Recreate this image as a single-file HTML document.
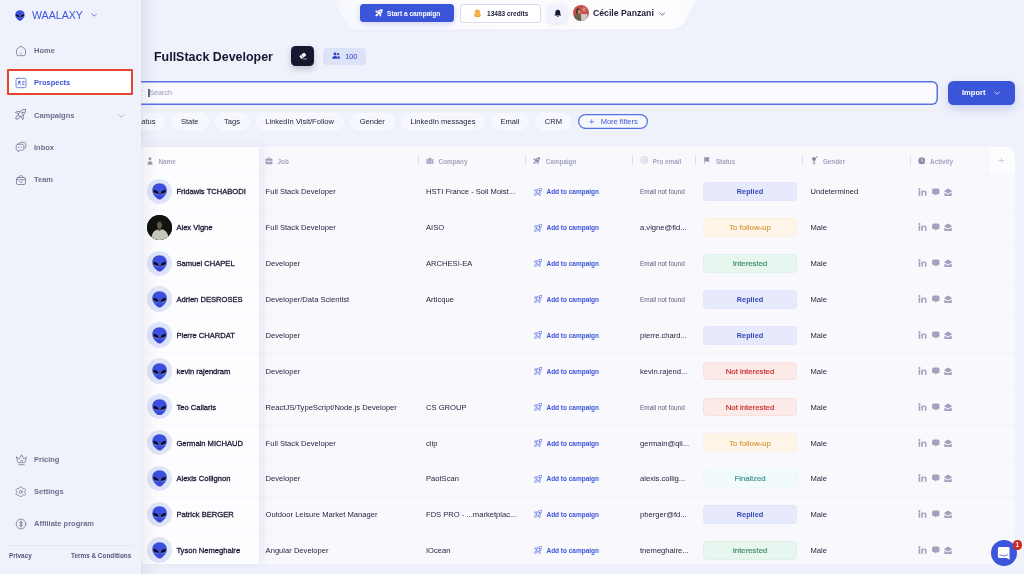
<!DOCTYPE html>
<html><head><meta charset="utf-8"><title>Waalaxy</title>
<style>
*{box-sizing:border-box;margin:0;padding:0}
html,body{width:1024px;height:574px;overflow:hidden;background:#eff2fb;font-family:"Liberation Sans",sans-serif;color:#1c1d3a}
#main{position:absolute;left:0;top:0;width:1024px;height:574px;background:#eff2fb;overflow:hidden}
/* sidebar */
#side{position:absolute;left:0;top:0;width:140.5px;height:574px;background:#eff2fb}
#sshadow{position:absolute;left:140.5px;top:0;width:18px;height:574px;background:linear-gradient(to right,rgba(40,45,95,.085),rgba(40,45,95,.05) 22%,rgba(40,45,95,.024) 55%,rgba(40,45,95,0))}
#side .logo-t{position:absolute;left:32px;top:9px;font-size:10.6px;color:#3b55d9;letter-spacing:0;line-height:12px}
.nav{position:absolute;left:34px;font-size:7.5px;font-weight:bold;color:#6c6f8c;line-height:10px;white-space:nowrap}
.nav.act{color:#3b55d9}
.nic{position:absolute;left:15px}
#pbox{position:absolute;left:7px;top:69.4px;width:126px;height:26px;background:#fff;border:2px solid #e8452e;border-radius:1px}
#sdiv{position:absolute;left:8px;top:545px;width:124px;height:1px;background:#e3e6f3}
.foot{position:absolute;top:550.5px;font-size:6.4px;font-weight:bold;color:#54577a;line-height:9px;white-space:nowrap}
/* header */
#hdr{position:absolute;left:322px;top:0}
#startb{position:absolute;left:360.3px;top:3.6px;width:93.6px;height:18.9px;background:#3b55d9;border-radius:3.5px;box-shadow:0 2px 6px rgba(59,85,217,.25)}
#startb span{position:absolute;left:26.8px;top:5px;font-size:6.6px;font-weight:bold;color:#fff;line-height:9px;white-space:nowrap}
#credb{position:absolute;left:459.8px;top:3.5px;width:81px;height:19.5px;background:#fff;border:1px solid #d9dcef;border-radius:3px}
#credb span{position:absolute;left:26.3px;top:4.2px;font-size:6.5px;font-weight:bold;color:#1c1d3a;line-height:9px;white-space:nowrap}
#bellb{position:absolute;left:547.8px;top:3.7px;width:19.4px;box-shadow:0 1px 4px rgba(200,203,230,.5);height:19.5px;background:#f1f2fb;border-radius:4px}
#uav{position:absolute;left:573px;top:5px;width:16px;height:16px;border-radius:50%;overflow:hidden}
#uname{position:absolute;left:593px;top:8px;font-size:8.7px;font-weight:bold;color:#1c1d3a;line-height:10px;white-space:nowrap}
/* title */
#title{position:absolute;left:154px;top:49px;font-size:12.45px;font-weight:bold;color:#15162f;line-height:16px;white-space:nowrap}
#erase{position:absolute;left:291px;top:46px;width:23.2px;height:20.2px;background:#17182f;border-radius:4.5px;box-shadow:0 3px 6px rgba(26,26,56,.22)}
#cnt{position:absolute;left:323.3px;top:47.7px;width:42.7px;height:17px;background:#dce2f8;border-radius:4px}
#cnt span{position:absolute;left:21.9px;top:4.3px;font-size:7.3px;color:#2a3fc0;line-height:9px}
/* search */
#search{position:absolute;left:130px;top:80.6px;width:807.8px;height:24.4px;background:#fafaff;border:0;box-shadow:inset 0 0 0 1.5px #5872e1;border-radius:6px}
#search span{position:absolute;left:19.3px;top:7.9px;font-size:7.2px;color:#9a9db8;line-height:10px}
#caret{position:absolute;left:148px;top:88.5px;width:2px;height:8.5px;background:#6a6c86}
#import{position:absolute;left:948.2px;top:80.7px;width:66.4px;height:24.2px;background:#3b55d9;border-radius:5.5px;box-shadow:0 4px 9px rgba(59,85,217,.22)}
#import span{position:absolute;left:13.8px;top:7.6px;font-size:7.6px;font-weight:bold;color:#fff;line-height:9px}
/* filters */
.pill{position:absolute;top:112.8px;height:17px;background:#f7f8fe;border:1px solid #fbfbff;border-radius:9px;font-size:7.55px;color:#24263f;line-height:16px;text-align:center;white-space:nowrap}
#more{position:absolute;left:578px;top:113.8px;width:70px;height:15.1px;border:0;box-shadow:inset 0 0 0 1.3px #5570e0;border-radius:8px;background:#f7f8fe}
#more span{position:absolute;left:22.7px;top:3.2px;font-size:7.5px;color:#3b55d9;line-height:10px;white-space:nowrap}
#fline{position:absolute;left:141px;top:138px;width:873px;height:1px;background:#f4f5fc}
/* table */
#table{position:absolute;left:0;top:0;width:1024px;height:574px}
#tbg{position:absolute;left:141px;top:147px;width:873.5px;height:417px;background:#f8f8fd;border-radius:0 9px 0 0}
#namecol{position:absolute;left:141px;top:147px;width:117.5px;height:417px;background:#fdfdff;box-shadow:4px 0 8px rgba(190,192,215,.26)}
#pluscol{position:absolute;left:990px;top:147px;width:24.5px;height:26.5px;background:#fdfdff;border-radius:0 9px 0 0}
.rowline{position:absolute;left:141px;width:873.5px;height:1px;background:rgba(60,60,120,.024)}
.th{position:absolute;top:156.7px;font-size:6.35px;font-weight:bold;color:#a3a5bf;line-height:9px;white-space:nowrap}
.thi{position:absolute}
.sep{position:absolute;top:156px;width:1px;height:9px;background:#dddfec}
.c{position:absolute;font-size:7.6px;line-height:10px;white-space:nowrap;color:#24263f}
.nm{left:176.4px;color:#15162f;-webkit-text-stroke:.28px #15162f}
.jb{left:265.6px}
.co{left:426px}
.atc{left:546.5px;font-size:6.47px;font-weight:bold;color:#3b55d9}
.em{left:640px}
.enf{left:640px;font-size:6.45px;color:#5f617b}
.gd{left:810.5px}
.ic-rk{position:absolute;left:534.2px}
.ic-act{position:absolute;left:917.6px}
.av{position:absolute;left:146.5px;width:25.5px;height:25.5px;border-radius:50%;background:#dfe4f8;overflow:hidden}
.av.ph{background:#1a1715}
.st{position:absolute;left:703px;width:94px;height:18.8px;border-radius:4px;border:1px solid}
.stt{position:absolute;left:703px;width:94px;font-size:7.8px;line-height:10px;text-align:center;white-space:nowrap;background:none!important;border:0;-webkit-text-stroke:.2px currentColor}
.st-rep{background:#e6eafc;border-color:#e0e5fb;color:#3549b8;font-weight:bold;font-size:7.3px;-webkit-text-stroke:0!important}
.st-fol{background:#fef5e8;border-color:#fdf0e0;color:#dd9a45}
.st-int{background:#e7f6ef;border-color:#dff2e9;color:#45906c}
.st-not{background:#fceae8;border-color:#f9e0de;color:#c9302f}
.st-fin{background:#f2fbfb;border-color:#edf8f8;color:#3f9694}
#chat{position:absolute;left:990.5px;top:540px;width:26px;height:26px;border-radius:50%;background:#3b57d9}
#badge{position:absolute;left:22px;top:0px;width:9.5px;height:9.5px;border-radius:50%;background:#d0261f;color:#fff;font-size:6.5px;font-weight:bold;line-height:9.5px;text-align:center}

#main,#side{will-change:transform}

</style></head>
<body>
<svg width="0" height="0" style="position:absolute">
<defs>
<g id="alien">
<path d="M15 0.5 C6.2 0.5 0.6 6.2 0.6 14.2 C0.6 20.5 4 25.5 9.5 30.2 C12 32.6 13.5 33 15 33 C16.5 33 18 32.6 20.5 30.2 C26 25.5 29.4 20.5 29.4 14.2 C29.4 6.2 23.8 0.5 15 0.5Z" fill="#3a50dc"/>
<path d="M2.4 14.2 C6.6 13 12 16.2 13.2 21.4 C8.6 22.8 3 19.8 2.4 14.2Z" fill="#090a16"/>
<path d="M27.6 14.2 C23.4 13 18 16.2 16.8 21.4 C21.4 22.8 27 19.8 27.6 14.2Z" fill="#090a16"/>
<path d="M4.2 19.8 C6.6 22 9.8 22.6 12.8 21.8" stroke="#c9cde8" stroke-width=".9" fill="none"/>
<path d="M25.8 19.8 C23.4 22 20.2 22.6 17.2 21.8" stroke="#c9cde8" stroke-width=".9" fill="none"/>
<path d="M12.8 28 Q15 29 17.2 28" stroke="#2231a8" stroke-width="1.1" fill="none"/>
</g>
<g id="photo">
<rect width="25.6" height="25.6" fill="#121211"/>
<path d="M4.2 25.6 C4.4 19 6.5 15.6 10.6 14.6 L12.7 15.8 L15 14.4 C19.5 15.5 21.6 19 21.8 25.6Z" fill="#c6c6ba"/>
<rect x="11.2" y="12" width="2.8" height="3.2" fill="#5a493d"/>
<ellipse cx="12.5" cy="10" rx="2.5" ry="3.3" fill="#6b594b"/>
<path d="M9.9 9.4 C9.7 6.2 11.2 5.4 12.6 5.4 C14.2 5.4 15.4 6.4 15.1 9.2 C14.4 7.6 13.6 7.2 12.4 7.2 C11.2 7.2 10.4 7.8 9.9 9.4Z" fill="#2a2019"/>
</g>

<g id="acts" fill="#a1a3bc">
<path d="M0.6 3.6 h1.6 v5.2 h-1.6z M1.4 1.0 a0.95 0.95 0 1 0 0.001 0z M3.3 3.6 h1.5 v0.75 c0.4-0.6 1-0.9 1.75-0.9 c1.5 0 1.95 0.95 1.95 2.3 v3.05 h-1.6 v-2.7 c0-0.7-0.15-1.25-0.85-1.25 c-0.75 0-1.15 0.5-1.15 1.3 v2.65 h-1.6z"/>
<path d="M15.6 1.5 h4.4 a1.5 1.5 0 0 1 1.5 1.5 v2.8 a1.5 1.5 0 0 1 -1.5 1.5 h-1.2 l-1.2 1.4 l-0.6 -1.4 h-1.4 a1.5 1.5 0 0 1 -1.5 -1.5 v-2.8 a1.5 1.5 0 0 1 1.5 -1.5z"/>
<path d="M30.1 1.4 l3.7 2.3 v0.9 l-3.7 2 l-3.7 -2 v-0.9z M26.4 5.7 l3.7 1.9 l3.7 -1.9 v2.7 a0.7 0.7 0 0 1 -0.7 0.7 h-6 a0.7 0.7 0 0 1 -0.7 -0.7z"/>
</g>
<g id="chat-ic">
<path d="M8.2 7 h9 a1.3 1.3 0 0 1 1.3 1.3 v11.5 l-2.8 -1.9 h-7.5 a1.3 1.3 0 0 1 -1.3 -1.3 v-8.3 a1.3 1.3 0 0 1 1.3 -1.3z" fill="#fff"/>
<path d="M9 15 Q12.8 17.2 16.7 15" stroke="#3b57d9" stroke-width="0.8" fill="none" stroke-linecap="round"/>
</g>



<g id="coins">
<ellipse cx="9" cy="13.2" rx="6.2" ry="3.2" fill="#f0a13a"/>
<ellipse cx="9" cy="11.6" rx="6.2" ry="3.2" fill="#f6bb55" stroke="#e8922a" stroke-width="1"/>
<circle cx="9" cy="6.2" r="4.6" fill="#f6bb55" stroke="#e8922a" stroke-width="1.2"/>
<circle cx="9" cy="6.2" r="1.6" fill="#e8922a"/>
</g>
<g id="rocket-o" fill="none" color="#3b55d9" stroke="#3b55d9" stroke-width="1.5" stroke-linecap="round" stroke-linejoin="round">
<path d="M21.4 0.6 C21.6 5.5 19.6 10.6 13.8 14.4 L10.2 15.2 L6.8 11.8 L7.6 8.2 C11.4 2.4 16.5 0.4 21.4 0.6Z"/>
<path d="M9.8 5.4 C6 4.4 2.6 5 0.6 6.8 C3 7.4 5.4 8.8 7 11.2"/>
<path d="M16.6 12.2 C17.6 16 17 19.4 15.2 21.4 C14.6 19 13.2 16.6 10.8 15"/>
<path d="M6.2 13.2 C3.2 12.8 1.2 15.6 1.8 20.2 C6.4 20.8 9.2 18.8 8.8 15.8"/>
<circle cx="14.9" cy="7.3" r="1.5" fill="currentColor" stroke-width="1"/>
</g>
<g id="rocket-g" fill="none" color="#6c6f8c" stroke="#6c6f8c" stroke-width="1.7" stroke-linecap="round" stroke-linejoin="round">
<path d="M21.4 0.6 C21.6 5.5 19.6 10.6 13.8 14.4 L10.2 15.2 L6.8 11.8 L7.6 8.2 C11.4 2.4 16.5 0.4 21.4 0.6Z"/>
<path d="M9.8 5.4 C6 4.4 2.6 5 0.6 6.8 C3 7.4 5.4 8.8 7 11.2"/>
<path d="M16.6 12.2 C17.6 16 17 19.4 15.2 21.4 C14.6 19 13.2 16.6 10.8 15"/>
<path d="M6.2 13.2 C3.2 12.8 1.2 15.6 1.8 20.2 C6.4 20.8 9.2 18.8 8.8 15.8"/>
<circle cx="14.9" cy="7.3" r="1.5" fill="currentColor" stroke-width="1"/>
</g>
<g id="rocket-g2" fill="none" color="#8a8ca8" stroke="#8a8ca8" stroke-width="1.7" stroke-linecap="round" stroke-linejoin="round">
<path d="M21.4 0.6 C21.6 5.5 19.6 10.6 13.8 14.4 L10.2 15.2 L6.8 11.8 L7.6 8.2 C11.4 2.4 16.5 0.4 21.4 0.6Z"/>
<path d="M9.8 5.4 C6 4.4 2.6 5 0.6 6.8 C3 7.4 5.4 8.8 7 11.2"/>
<path d="M16.6 12.2 C17.6 16 17 19.4 15.2 21.4 C14.6 19 13.2 16.6 10.8 15"/>
<path d="M6.2 13.2 C3.2 12.8 1.2 15.6 1.8 20.2 C6.4 20.8 9.2 18.8 8.8 15.8"/>
<circle cx="14.9" cy="7.3" r="1.5" fill="currentColor" stroke-width="1"/>
</g>

<g id="rocket-w" fill="#fff">
<path fill-rule="evenodd" d="M21.5 0.5 C21.9 5.4 20.6 10.8 14.6 14.9 L10.3 16.3 L5.8 11.9 L7.3 7.5 C11.4 1.5 16.8 0.1 21.5 0.5Z M16.8 7.4 A2 2 0 1 0 12.8 7.4 A2 2 0 1 0 16.8 7.4Z"/>
<path d="M9 3.4 L0 5.8 L4.8 11.4 L6.2 7.4Z"/>
<path d="M18.6 13 L16.2 22 L10.6 17.2 L14.8 15.8Z"/>
<path d="M6.4 13.6 C3.4 13.2 0.8 15.8 1.4 20.6 C6.2 21.2 8.8 18.6 8.4 15.6Z"/>
</g>
<g id="rocket-f" fill="#8f91ad">
<path fill-rule="evenodd" d="M21.5 0.5 C21.9 5.4 20.6 10.8 14.6 14.9 L10.3 16.3 L5.8 11.9 L7.3 7.5 C11.4 1.5 16.8 0.1 21.5 0.5Z M16.8 7.4 A2 2 0 1 0 12.8 7.4 A2 2 0 1 0 16.8 7.4Z"/>
<path d="M9 3.4 L0 5.8 L4.8 11.4 L6.2 7.4Z"/>
<path d="M18.6 13 L16.2 22 L10.6 17.2 L14.8 15.8Z"/>
<path d="M6.4 13.6 C3.4 13.2 0.8 15.8 1.4 20.6 C6.2 21.2 8.8 18.6 8.4 15.6Z"/>
</g>
</defs>
</svg>

<div id="main">
<svg id="hdr" width="390" height="50" viewBox="0 0 390 50">
<defs><filter id="hs" x="-5%" y="-30%" width="110%" height="180%"><feGaussianBlur stdDeviation="2.5"/></filter>
<linearGradient id="hg" x1="0" x2="1" y1="0" y2="0"><stop offset="0" stop-color="#f2f4fc"/><stop offset=".09" stop-color="#fcfcff"/><stop offset=".9" stop-color="#fdfdff"/><stop offset="1" stop-color="#fbfbff"/></linearGradient></defs>
<path d="M8 0 C13 0 15 6 21 18 C25 26 29 29.3 38 29.3 H348 C357 29.3 361 26 365 18 C371 6 373 0 378 0Z" fill="#c5cbee" opacity=".1" filter="url(#hs)" transform="translate(0,1.5)"/>
<path d="M8 0 C13 0 15 6 21 18 C25 26 29 29.3 38 29.3 H348 C357 29.3 361 26 365 18 C371 6 373 0 378 0Z" fill="url(#hg)"/>
</svg>
<div id="startb"><svg style="position:absolute;left:14.5px;top:5.4px" width="7.8" height="7.8" viewBox="0 0 22 22"><use href="#rocket-w"/></svg><span>Start a campaign</span></div>
<div id="credb"><svg style="position:absolute;left:12.5px;top:4.6px" width="9" height="9" viewBox="0 0 18 18"><use href="#coins"/></svg><span>13483 credits</span></div>
<div id="bellb"><svg style="position:absolute;left:5.9px;top:5.3px" width="7.6" height="8.4" viewBox="0 0 18 20"><path d="M9 1 C9.8 1 10.4 1.6 10.4 2.4 C13.2 3 14.8 5.2 14.8 8.2 V11.6 L16.6 14.2 V15.2 H1.4 V14.2 L3.2 11.6 V8.2 C3.2 5.2 4.8 3 7.6 2.4 C7.6 1.6 8.2 1 9 1Z M6.8 16.4 H11.2 C11.2 17.7 10.3 18.6 9 18.6 C7.7 18.6 6.8 17.7 6.8 16.4Z" fill="#15162f"/></svg></div>
<div id="uav"><svg width="16" height="16" viewBox="0 0 16 16"><rect width="16" height="16" fill="#c8504a"/><path d="M9.5 3.2 H13 M8.8 4.6 H12.2 M10 6 H12.6" stroke="#e9b9b5" stroke-width=".7"/><path d="M8.2 9 H14.2 L14.8 16 H7.6Z" fill="#cdc9c8"/><path d="M1 16 C1 11.5 2 9.3 4.2 8.6 L6.6 8.8 C8 9.6 8.4 12 8.2 16Z" fill="#6a634f"/><path d="M3 8.6 C2.6 5.4 3.4 3.4 5 3.2 C6.6 3.2 7.2 4.6 7 6.6 C6.6 5.4 5.8 5 5.2 5.4 C4.6 6.2 4.8 7.8 4.4 9Z" fill="#4a382c"/><ellipse cx="6" cy="6.6" rx="1.1" ry="1.5" fill="#c9a08a"/><path d="M6.4 8 L7.6 6.8 L8 7.6 L7 9Z" fill="#c9a08a"/></svg></div>
<div id="uname">Cécile Panzani</div>
<svg style="position:absolute;left:658.75px;top:12.05px" width="6.5" height="4.06" viewBox="0 0 8 5"><path d="M1 1 L4 4 L7 1" fill="none" stroke="#33354f" stroke-width="0.9" stroke-linecap="round" stroke-linejoin="round"/></svg>
<div id="title">FullStack Developer</div>
<div id="erase"><svg style="position:absolute;left:7.6px;top:6.2px" width="8.4" height="8" viewBox="0 0 21 20"><g transform="rotate(-38 9 9)"><rect x="1.5" y="5" width="15.5" height="9.2" rx="2.2" fill="#fff"/><path d="M7.2 4.6 V14.6" stroke="#17182f" stroke-width="1.3"/></g><path d="M11.5 17.6 H19" stroke="#fff" stroke-width="1.5" stroke-linecap="round"/></svg></div>
<div id="cnt"><svg style="position:absolute;left:8.7px;top:4.6px" width="8.4" height="7.6" viewBox="0 0 18 16" fill="#2a3fc0"><circle cx="6.5" cy="4" r="3.2"/><path d="M0.5 14.5 C0.5 10.8 3 8.6 6.5 8.6 C10 8.6 12.5 10.8 12.5 14.5Z"/><circle cx="13.2" cy="4.6" r="2.4"/><path d="M13.6 14.5 C13.6 12 12.8 10.2 11.6 9.2 C12.1 9 12.7 8.9 13.2 8.9 C15.8 8.9 17.6 10.8 17.6 14.5Z"/></svg><span>100</span></div>
<div id="search"><span>Search</span></div>
<div id="caret"></div>
<svg style="position:absolute;left:141px;top:89px" width="3" height="8" viewBox="0 0 3 8"><circle cx="1" cy="1.5" r=".7" fill="#c6c9de"/><circle cx="1" cy="6" r=".7" fill="#c6c9de"/></svg>
<div id="import"><span>Import</span><svg style="position:absolute;left:45.35px;top:10.65px" width="6.5" height="4.06" viewBox="0 0 8 5"><path d="M1 1 L4 4 L7 1" fill="none" stroke="#fff" stroke-width="0.9" stroke-linecap="round" stroke-linejoin="round"/></svg></div>
<div class="pill" style="left:120px;width:44.6px;text-align:right;padding-right:8px">atus</div>
<div class="pill" style="left:170.5px;width:38.5px">State</div>
<div class="pill" style="left:214.5px;width:35px">Tags</div>
<div class="pill" style="left:255.6px;width:88px">LinkedIn Visit/Follow</div>
<div class="pill" style="left:350px;width:44.5px">Gender</div>
<div class="pill" style="left:400.8px;width:84.3px">LinkedIn messages</div>
<div class="pill" style="left:491.4px;width:37px">Email</div>
<div class="pill" style="left:535.4px;width:36px">CRM</div>
<div id="more"><svg style="position:absolute;left:11.2px;top:5px" width="5.4" height="5.4" viewBox="0 0 5.4 5.4"><path d="M2.7 0.2 V5.2 M0.2 2.7 H5.2" stroke="#5570e0" stroke-width=".75"/></svg><span>More filters</span></div>
<div id="fline"></div>

<div id="table">
<div id="tbg"></div>
<div id="namecol"></div>
<div id="pluscol"></div>
<svg class="thi" style="left:147px;top:156.5px" width="6" height="8" viewBox="0 0 12 16" fill="#9b9db7"><circle cx="6" cy="3.6" r="3"/><path d="M1 14.5 C1 10.8 3 8.6 6 8.6 C9 8.6 11 10.8 11 14.5 C11 15.2 10.6 15.5 10 15.5 H2 C1.4 15.5 1 15.2 1 14.5Z"/></svg>
<div class="th" style="left:158.5px">Name</div>
<svg class="thi" style="left:265px;top:156.5px" width="8" height="8" viewBox="0 0 16 16" fill="#9b9db7"><path d="M5 3.5 V2.6 C5 1.6 5.7 1 6.6 1 H9.4 C10.3 1 11 1.6 11 2.6 V3.5 H13.4 C14.4 3.5 15 4.1 15 5.1 V7.6 H1 V5.1 C1 4.1 1.6 3.5 2.6 3.5Z M6.3 3.5 H9.7 V2.6 H6.3Z M1 9 H6.5 V10.4 H9.5 V9 H15 V12.9 C15 13.9 14.4 14.5 13.4 14.5 H2.6 C1.6 14.5 1 13.9 1 12.9Z"/></svg>
<div class="th" style="left:277.5px">Job</div>
<div class="sep" style="left:418px"></div>
<svg class="thi" style="left:425.9px;top:156.8px" width="7.8" height="7.2" viewBox="0 0 16 15" fill="#a0a2bc"><path d="M4.6 3 L8 0.8 L11.4 3 V14.4 H4.6Z"/><path d="M0.6 5.2 Q0.6 4.2 1.6 4.2 H3.8 V14.4 H1.6 Q0.6 14.4 0.6 13.4Z" opacity=".85"/><path d="M12.2 4.2 H14.4 Q15.4 4.2 15.4 5.2 V13.4 Q15.4 14.4 14.4 14.4 H12.2Z" opacity=".85"/><path d="M6.4 5 H7.2 V14.4 H6.4Z M8.8 5 H9.6 V14.4 H8.8Z" fill="#c9cade"/></svg>
<div class="th" style="left:438.6px">Company</div>
<div class="sep" style="left:525.3px"></div>
<svg class="thi" style="left:533.4px;top:156.8px" width="7.3" height="7.3" viewBox="0 0 22 22"><use href="#rocket-f"/></svg>
<div class="th" style="left:545.8px">Campaign</div>
<div class="sep" style="left:632px"></div>
<svg class="thi" style="left:639.8px;top:156.3px" width="8.3" height="8.3" viewBox="0 0 16 16" fill="none" stroke="#b2b4cc" stroke-width="1"><circle cx="8" cy="8" r="6.8"/><circle cx="8" cy="8" r="2.6"/><path d="M10.6 5.6 V9 C10.6 10.2 11.2 10.8 12.2 10.8"/></svg>
<div class="th" style="left:652.7px">Pro email</div>
<div class="sep" style="left:695.3px"></div>
<svg class="thi" style="left:704.2px;top:156.9px" width="6" height="7.2" viewBox="0 0 12 14.4" fill="#9092ae"><path d="M0.2 0.4 H1.6 V14 H0.2Z" opacity=".7"/><path d="M1.2 0.6 H11.4 L9.6 4.6 L11.4 8.8 H1.2Z"/></svg>
<div class="th" style="left:715.9px">Status</div>
<div class="sep" style="left:802px"></div>
<svg class="thi" style="left:811px;top:156px" width="7" height="9" viewBox="0 0 14 18" fill="#8a8ca8"><circle cx="6" cy="6" r="4.2"/><path d="M5.2 10 H6.8 V17 H5.2Z M3.4 13 H8.6 V14.5 H3.4Z M9 2.8 L12 0.8 L12.6 1.8 L9.8 3.9Z M10.4 0.6 H13 V3.2 H12 V1.6 H10.4Z"/></svg>
<div class="th" style="left:822.9px">Gender</div>
<div class="sep" style="left:910px"></div>
<svg class="thi" style="left:917.6px;top:156.6px" width="7.6" height="7.6" viewBox="0 0 16 16"><circle cx="8" cy="8" r="7.6" fill="#8b8da9"/><path d="M8 4 V8.4 L10.8 10" stroke="#fbfbfe" stroke-width="1.4" fill="none" stroke-linecap="round"/></svg>
<div class="th" style="left:930.1px">Activity</div>
<svg class="thi" style="left:998px;top:157px" width="7" height="7" viewBox="0 0 7 7"><path d="M3.5 0.8 V6.2 M0.8 3.5 H6.2" stroke="#bdbfd4" stroke-width="0.7"/></svg>


<div class="rowline" style="top:173.0px"></div>
<div class="av" style="top:178.8px"><svg width="15.2" height="16.9" viewBox="0 0 30 33.4" style="position:absolute;left:5.15px;top:4.7px"><use href="#alien"/></svg></div>
<div class="c nm" style="top:187px">Fridawis TCHABODI</div>
<div class="c jb" style="top:187px">Full Stack Developer</div>
<div class="c co" style="top:187px">HSTI France - Soil Moist...</div>
<svg class="ic-rk" style="top:187.6px" width="8" height="8" viewBox="0 0 22 22"><use href="#rocket-o"/></svg>
<div class="c atc" style="top:187px">Add to campaign</div>
<div class="c enf" style="top:187px">Email not found</div>
<div class="st st-rep" style="top:182.4px"></div><div class="stt st-rep" style="top:187px">Replied</div>
<div class="c gd" style="top:187px">Undetermined</div>
<svg class="ic-act" style="top:186.5px" width="36" height="10" viewBox="0 0 36 10"><use href="#acts"/></svg>

<div class="rowline" style="top:208.9px"></div>
<div class="av ph" style="top:214.6px"><svg width="25.5" height="25.5" viewBox="0 0 25.6 25.6"><use href="#photo"/></svg></div>
<div class="c nm" style="top:223px">Alex Vigne</div>
<div class="c jb" style="top:223px">Full Stack Developer</div>
<div class="c co" style="top:223px">AISO</div>
<svg class="ic-rk" style="top:223.5px" width="8" height="8" viewBox="0 0 22 22"><use href="#rocket-o"/></svg>
<div class="c atc" style="top:223px">Add to campaign</div>
<div class="c em" style="top:223px">a.vigne@fid...</div>
<div class="st st-fol" style="top:218.3px"></div><div class="stt st-fol" style="top:223px">To follow-up</div>
<div class="c gd" style="top:223px">Male</div>
<svg class="ic-act" style="top:222.4px" width="36" height="10" viewBox="0 0 36 10"><use href="#acts"/></svg>

<div class="rowline" style="top:244.7px"></div>
<div class="av" style="top:250.5px"><svg width="15.2" height="16.9" viewBox="0 0 30 33.4" style="position:absolute;left:5.15px;top:4.7px"><use href="#alien"/></svg></div>
<div class="c nm" style="top:259px">Samuel CHAPEL</div>
<div class="c jb" style="top:259px">Developer</div>
<div class="c co" style="top:259px">ARCHESI-EA</div>
<svg class="ic-rk" style="top:259.4px" width="8" height="8" viewBox="0 0 22 22"><use href="#rocket-o"/></svg>
<div class="c atc" style="top:259px">Add to campaign</div>
<div class="c enf" style="top:259px">Email not found</div>
<div class="st st-int" style="top:254.2px"></div><div class="stt st-int" style="top:259px">Interested</div>
<div class="c gd" style="top:259px">Male</div>
<svg class="ic-act" style="top:258.2px" width="36" height="10" viewBox="0 0 36 10"><use href="#acts"/></svg>

<div class="rowline" style="top:280.6px"></div>
<div class="av" style="top:286.4px"><svg width="15.2" height="16.9" viewBox="0 0 30 33.4" style="position:absolute;left:5.15px;top:4.7px"><use href="#alien"/></svg></div>
<div class="c nm" style="top:295px">Adrien DESROSES</div>
<div class="c jb" style="top:295px">Developer/Data Scientist</div>
<div class="c co" style="top:295px">Articque</div>
<svg class="ic-rk" style="top:295.2px" width="8" height="8" viewBox="0 0 22 22"><use href="#rocket-o"/></svg>
<div class="c atc" style="top:295px">Add to campaign</div>
<div class="c enf" style="top:295px">Email not found</div>
<div class="st st-rep" style="top:290.0px"></div><div class="stt st-rep" style="top:295px">Replied</div>
<div class="c gd" style="top:295px">Male</div>
<svg class="ic-act" style="top:294.1px" width="36" height="10" viewBox="0 0 36 10"><use href="#acts"/></svg>

<div class="rowline" style="top:316.4px"></div>
<div class="av" style="top:322.2px"><svg width="15.2" height="16.9" viewBox="0 0 30 33.4" style="position:absolute;left:5.15px;top:4.7px"><use href="#alien"/></svg></div>
<div class="c nm" style="top:331px">Pierre CHARDAT</div>
<div class="c jb" style="top:331px">Developer</div>
<div class="c co" style="top:331px"></div>
<svg class="ic-rk" style="top:331.1px" width="8" height="8" viewBox="0 0 22 22"><use href="#rocket-o"/></svg>
<div class="c atc" style="top:331px">Add to campaign</div>
<div class="c em" style="top:331px">pierre.chard...</div>
<div class="st st-rep" style="top:325.9px"></div><div class="stt st-rep" style="top:331px">Replied</div>
<div class="c gd" style="top:331px">Male</div>
<svg class="ic-act" style="top:330.0px" width="36" height="10" viewBox="0 0 36 10"><use href="#acts"/></svg>

<div class="rowline" style="top:352.3px"></div>
<div class="av" style="top:358.1px"><svg width="15.2" height="16.9" viewBox="0 0 30 33.4" style="position:absolute;left:5.15px;top:4.7px"><use href="#alien"/></svg></div>
<div class="c nm" style="top:367px">kevin rajendram</div>
<div class="c jb" style="top:367px">Developer</div>
<div class="c co" style="top:367px"></div>
<svg class="ic-rk" style="top:366.9px" width="8" height="8" viewBox="0 0 22 22"><use href="#rocket-o"/></svg>
<div class="c atc" style="top:367px">Add to campaign</div>
<div class="c em" style="top:367px">kevin.rajend...</div>
<div class="st st-not" style="top:361.7px"></div><div class="stt st-not" style="top:367px">Not interested</div>
<div class="c gd" style="top:367px">Male</div>
<svg class="ic-act" style="top:365.8px" width="36" height="10" viewBox="0 0 36 10"><use href="#acts"/></svg>

<div class="rowline" style="top:388.2px"></div>
<div class="av" style="top:393.9px"><svg width="15.2" height="16.9" viewBox="0 0 30 33.4" style="position:absolute;left:5.15px;top:4.7px"><use href="#alien"/></svg></div>
<div class="c nm" style="top:403px">Teo Callaris</div>
<div class="c jb" style="top:403px">ReactJS/TypeScript/Node.js Developer</div>
<div class="c co" style="top:403px">CS GROUP</div>
<svg class="ic-rk" style="top:402.8px" width="8" height="8" viewBox="0 0 22 22"><use href="#rocket-o"/></svg>
<div class="c atc" style="top:403px">Add to campaign</div>
<div class="c enf" style="top:403px">Email not found</div>
<div class="st st-not" style="top:397.6px"></div><div class="stt st-not" style="top:403px">Not interested</div>
<div class="c gd" style="top:403px">Male</div>
<svg class="ic-act" style="top:401.7px" width="36" height="10" viewBox="0 0 36 10"><use href="#acts"/></svg>

<div class="rowline" style="top:424.0px"></div>
<div class="av" style="top:429.8px"><svg width="15.2" height="16.9" viewBox="0 0 30 33.4" style="position:absolute;left:5.15px;top:4.7px"><use href="#alien"/></svg></div>
<div class="c nm" style="top:439px">Germain MICHAUD</div>
<div class="c jb" style="top:439px">Full Stack Developer</div>
<div class="c co" style="top:439px">clip</div>
<svg class="ic-rk" style="top:438.7px" width="8" height="8" viewBox="0 0 22 22"><use href="#rocket-o"/></svg>
<div class="c atc" style="top:439px">Add to campaign</div>
<div class="c em" style="top:439px">germain@qli...</div>
<div class="st st-fol" style="top:433.4px"></div><div class="stt st-fol" style="top:439px">To follow-up</div>
<div class="c gd" style="top:439px">Male</div>
<svg class="ic-act" style="top:437.6px" width="36" height="10" viewBox="0 0 36 10"><use href="#acts"/></svg>

<div class="rowline" style="top:459.9px"></div>
<div class="av" style="top:465.7px"><svg width="15.2" height="16.9" viewBox="0 0 30 33.4" style="position:absolute;left:5.15px;top:4.7px"><use href="#alien"/></svg></div>
<div class="c nm" style="top:474px">Alexis Collignon</div>
<div class="c jb" style="top:474px">Developer</div>
<div class="c co" style="top:474px">PaotScan</div>
<svg class="ic-rk" style="top:474.5px" width="8" height="8" viewBox="0 0 22 22"><use href="#rocket-o"/></svg>
<div class="c atc" style="top:474px">Add to campaign</div>
<div class="c em" style="top:474px">alexis.collig...</div>
<div class="st st-fin" style="top:469.3px"></div><div class="stt st-fin" style="top:474px">Finalized</div>
<div class="c gd" style="top:474px">Male</div>
<svg class="ic-act" style="top:473.4px" width="36" height="10" viewBox="0 0 36 10"><use href="#acts"/></svg>

<div class="rowline" style="top:495.7px"></div>
<div class="av" style="top:501.5px"><svg width="15.2" height="16.9" viewBox="0 0 30 33.4" style="position:absolute;left:5.15px;top:4.7px"><use href="#alien"/></svg></div>
<div class="c nm" style="top:510px">Patrick BERGER</div>
<div class="c jb" style="top:510px">Outdoor Leisure Market Manager</div>
<div class="c co" style="top:510px">FDS PRO - ...marketplac...</div>
<svg class="ic-rk" style="top:510.4px" width="8" height="8" viewBox="0 0 22 22"><use href="#rocket-o"/></svg>
<div class="c atc" style="top:510px">Add to campaign</div>
<div class="c em" style="top:510px">pberger@fd...</div>
<div class="st st-rep" style="top:505.2px"></div><div class="stt st-rep" style="top:510px">Replied</div>
<div class="c gd" style="top:510px">Male</div>
<svg class="ic-act" style="top:509.3px" width="36" height="10" viewBox="0 0 36 10"><use href="#acts"/></svg>

<div class="rowline" style="top:531.6px"></div>
<div class="av" style="top:537.4px"><svg width="15.2" height="16.9" viewBox="0 0 30 33.4" style="position:absolute;left:5.15px;top:4.7px"><use href="#alien"/></svg></div>
<div class="c nm" style="top:546px">Tyson Nemeghaire</div>
<div class="c jb" style="top:546px">Angular Developer</div>
<div class="c co" style="top:546px">IOcean</div>
<svg class="ic-rk" style="top:546.2px" width="8" height="8" viewBox="0 0 22 22"><use href="#rocket-o"/></svg>
<div class="c atc" style="top:546px">Add to campaign</div>
<div class="c em" style="top:546px">tnemeghaire...</div>
<div class="st st-int" style="top:541.0px"></div><div class="stt st-int" style="top:546px">Interested</div>
<div class="c gd" style="top:546px">Male</div>
<svg class="ic-act" style="top:545.1px" width="36" height="10" viewBox="0 0 36 10"><use href="#acts"/></svg>
</div>
<div id="chat"><svg width="26" height="26" viewBox="0 0 26 26"><use href="#chat-ic"/></svg><div id="badge">1</div></div>
</div>
<div id="side">
<svg style="position:absolute;left:14.7px;top:9.7px" width="9.9" height="11" viewBox="0 0 30 33.4"><use href="#alien"/></svg>
<div class="logo-t">WAALAXY</div>
<svg style="position:absolute;left:90.75px;top:13.35px" width="6.5" height="4.06" viewBox="0 0 8 5"><path d="M1 1 L4 4 L7 1" fill="none" stroke="#3b55d9" stroke-width="0.9" stroke-linecap="round" stroke-linejoin="round"/></svg>
<div id="pbox"></div>
<!-- Home -->
<svg class="nic" style="top:45.0px" width="12" height="12" viewBox="0 0 24 24" fill="none" stroke="#6c6f8c" stroke-width="1.6" stroke-linecap="round" stroke-linejoin="round"><path d="M3 10.5 C3 9.3 3.5 8.4 4.4 7.7 L10 3.6 C11.2 2.8 12.8 2.8 14 3.6 L19.6 7.7 C20.5 8.4 21 9.3 21 10.5 V17.5 C21 19.7 19.4 21.3 17.2 21.3 H6.8 C4.6 21.3 3 19.7 3 17.5Z"/><path d="M12 16.2 V17.4"/></svg>
<div class="nav" style="top:46px">Home</div>
<!-- Prospects -->
<svg class="nic" style="top:77.0px" width="12" height="12" viewBox="0 0 24 24" fill="none" stroke="#3b55d9" stroke-width="1.4" stroke-linecap="round" stroke-linejoin="round"><rect x="2" y="2.6" width="20" height="18.8" rx="3.2"/><circle cx="8.5" cy="10" r="1.7" fill="#3b55d9"/><path d="M5.5 15.5 C6 13.6 7.2 13 8.5 13 C9.8 13 11 13.6 11.5 15.5"/><path d="M15 9 H18.3 M15 12 H18.3 M15 15 H18.3"/></svg>
<div class="nav act" style="top:78px">Prospects</div>
<!-- Campaigns -->
<svg class="nic" style="left:15.1px;top:109.2px" width="11" height="11" viewBox="0 0 22 22"><use href="#rocket-g"/></svg>
<div class="nav" style="top:111px">Campaigns</div>
<svg style="position:absolute;left:118.25px;top:114.05px" width="6.5" height="4.06" viewBox="0 0 8 5"><path d="M1 1 L4 4 L7 1" fill="none" stroke="#8b8ea9" stroke-width="0.8" stroke-linecap="round" stroke-linejoin="round"/></svg>
<!-- Inbox -->
<svg class="nic" style="top:141.3px" width="12" height="12" viewBox="0 0 24 24" fill="none" stroke="#6c6f8c" stroke-width="1.5" stroke-linecap="round" stroke-linejoin="round"><path d="M8 5.5 C8 3.8 9.2 2.6 11 2.6 H18.5 C20.3 2.6 21.5 3.8 21.5 5.5 V12 C21.5 13.6 20.5 14.7 19 14.9"/><path d="M5.5 6.5 H14.5 C16.3 6.5 17.5 7.7 17.5 9.5 V15.5 C17.5 17.3 16.3 18.5 14.5 18.5 H9.5 L6 21.5 V18.5 H5.5 C3.7 18.5 2.5 17.3 2.5 15.5 V9.5 C2.5 7.7 3.7 6.5 5.5 6.5Z"/><path d="M7 12.6 H7.1 M10 12.6 H10.1 M13 12.6 H13.1"/></svg>
<div class="nav" style="top:143px">Inbox</div>
<!-- Team -->
<svg class="nic" style="top:173.5px" width="12" height="12" viewBox="0 0 24 24" fill="none" stroke="#6c6f8c" stroke-width="1.5" stroke-linecap="round" stroke-linejoin="round"><rect x="3" y="7" width="18" height="14" rx="3"/><path d="M8.5 7 V5.5 C8.5 4.2 9.4 3.3 10.7 3.3 H13.3 C14.6 3.3 15.5 4.2 15.5 5.5 V7"/><path d="M3.2 11.5 H20.8"/><path d="M9.5 15.8 Q12 17.6 14.5 15.8"/></svg>
<div class="nav" style="top:175px">Team</div>
<!-- Pricing -->
<svg class="nic" style="left:14.55px;top:453.4px" width="13" height="13" viewBox="0 0 24 24" fill="none" stroke="#6c6f8c" stroke-width="1.4" stroke-linecap="round" stroke-linejoin="round"><path d="M3 7.4 L7.6 11 L12 3.4 L16.4 11 L21 7.4 L19 16.6 C18.8 17.4 18.2 17.8 17.4 17.8 H6.6 C5.8 17.8 5.2 17.4 5 16.6Z"/><path d="M10 14.2 H14"/><path d="M7 21.6 H17"/></svg>
<div class="nav" style="top:455px">Pricing</div>
<!-- Settings -->
<svg class="nic" style="top:485.7px;left:15.3px" width="11.6" height="11.6" viewBox="0 0 24 24" fill="none" stroke="#6c6f8c" stroke-width="1.5" stroke-linecap="round" stroke-linejoin="round"><circle cx="12" cy="12" r="2.9"/><path d="M9.6 2.6 C10.6 1.6 13.4 1.6 14.4 2.6 L15.2 4.6 C15.6 5.4 16.4 5.8 17.2 5.6 L19.4 5.2 C20.8 5.6 22.2 8 21.8 9.4 L20.4 11 C19.9 11.6 19.9 12.4 20.4 13 L21.8 14.6 C22.2 16 20.8 18.4 19.4 18.8 L17.2 18.4 C16.4 18.2 15.6 18.6 15.2 19.4 L14.4 21.4 C13.4 22.4 10.6 22.4 9.6 21.4 L8.8 19.4 C8.4 18.6 7.6 18.2 6.8 18.4 L4.6 18.8 C3.2 18.4 1.8 16 2.2 14.6 L3.6 13 C4.1 12.4 4.1 11.6 3.6 11 L2.2 9.4 C1.8 8 3.2 5.6 4.6 5.2 L6.8 5.6 C7.6 5.8 8.4 5.4 8.8 4.6Z"/></svg>
<div class="nav" style="top:487px">Settings</div>
<!-- Affiliate -->
<svg class="nic" style="top:517.6px" width="12" height="12" viewBox="0 0 24 24" fill="none" stroke="#6c6f8c" stroke-width="1.5" stroke-linecap="round" stroke-linejoin="round"><circle cx="12" cy="12" r="9.6"/><path d="M14.8 9.3 C14.5 8.2 13.5 7.7 12 7.7 C10.4 7.7 9.3 8.5 9.3 9.8 C9.3 11.2 10.5 11.6 12 12 C13.6 12.4 14.8 12.8 14.8 14.2 C14.8 15.5 13.6 16.3 12 16.3 C10.4 16.3 9.4 15.7 9.1 14.6 M12 6 V18"/></svg>
<div class="nav" style="top:519px">Affiliate program</div>
<div id="sdiv"></div>
<div class="foot" style="left:9px">Privacy</div>
<div class="foot" style="left:71px">Terms &amp; Conditions</div>
</div>
<div id="sshadow"></div>

</body></html>
